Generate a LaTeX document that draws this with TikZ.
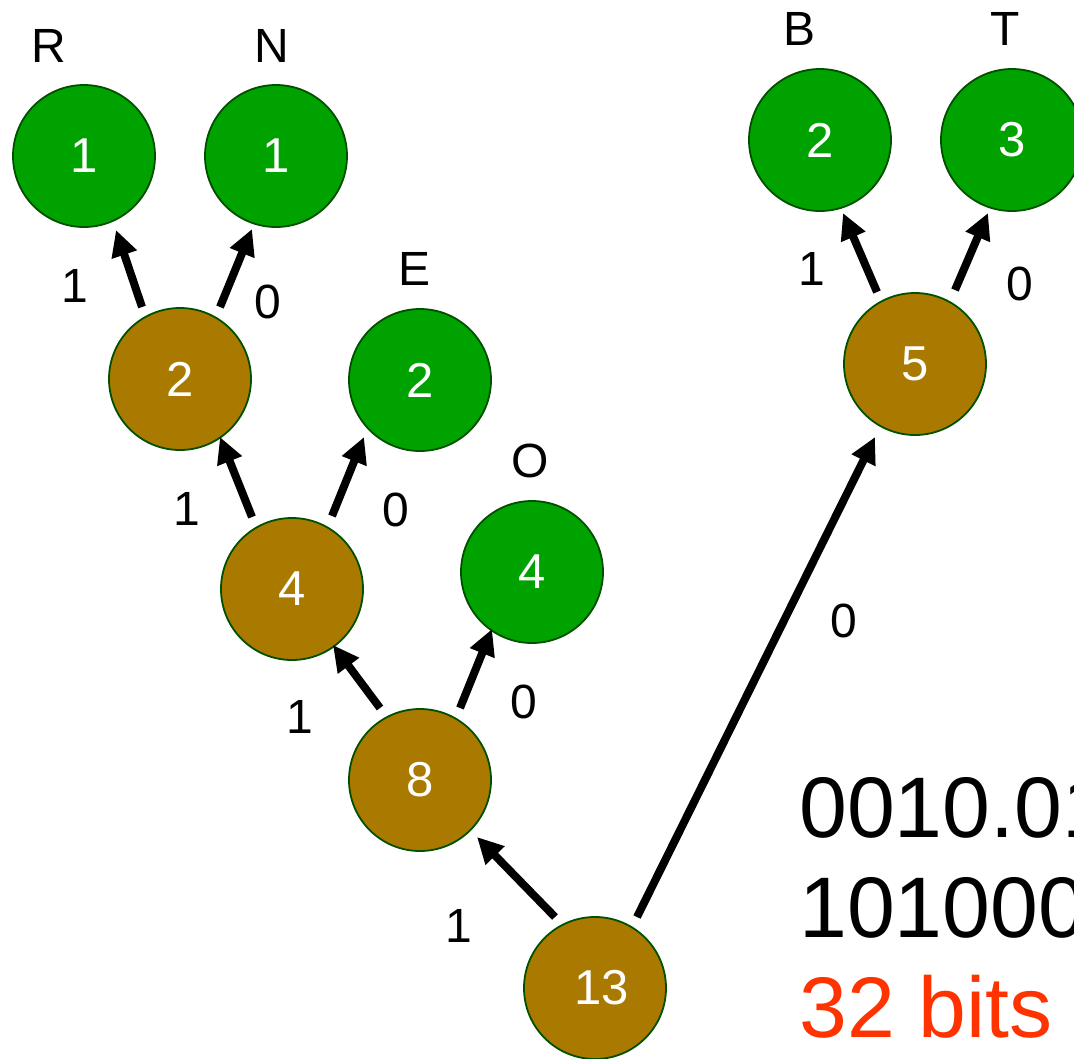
\documentclass[tikz,border=0pt]{standalone}
\usepackage{fontspec}
\setmainfont{Liberation Sans}
\usetikzlibrary{arrows.meta,calc}
\definecolor{leafgreen}{RGB}{0,162,0}
\definecolor{inbrown}{RGB}{170,122,0}
\definecolor{rimgreen}{RGB}{0,80,0}
\definecolor{bitsred}{RGB}{255,51,0}
\tikzset{
  nodebase/.style={circle, draw=rimgreen, line width=1.8pt, minimum size=142pt, inner sep=0pt,
    text=white, font=\fontsize{49}{58}\selectfont},
  leaf/.style={nodebase, fill=leafgreen},
  inner/.style={nodebase, fill=inbrown},
  lbl/.style={inner sep=0pt, anchor=base, font=\fontsize{48}{58}\selectfont},
  big/.style={inner sep=0pt, anchor=base west, font=\fontsize{86}{100}\selectfont},
  arr/.style={line width=8pt, -{Triangle[length=26pt,width=25pt]}}
}
\begin{document}
\begin{tikzpicture}[x=1pt,y=-1pt]
\useasboundingbox (0,0) rectangle (1074,1058);
\clip (0,0) rectangle (1074,1058);
\fill[white] (0,0) rectangle (1074,1058);
% leaves
\node[leaf] (nR) at (84,156) {1};
\node[leaf] (nN) at (276,156) {1};
\node[leaf] (nE) at (420,380) {2};
\node[leaf] (nO) at (532,572) {4};
\node[leaf] (nB) at (820,140) {2};
\node[leaf] (nT) at (1012,140) {3};
% internal
\node[inner] (n2) at (180,379) {2};
\node[inner] (n4) at (292,589) {4};
\node[inner] (n8) at (420,780) {8};
\node[inner] (n13) at (595,988) {\hspace*{14pt}13};
\node[inner] (n5) at (915,364) {5};
% letters
\node[lbl] (lR) at (49,62) {R};
\node[lbl] (lN) at (272,62) {N};
\node[lbl] (lB) at (799,45) {B};
\node[lbl] (lT) at (1005,45) {T};
\node[lbl] (lE) at (415,285) {E};
\node[lbl] (lO) at (530,477) {O};
% arrows
\draw[arr] ($(n2)+(-38,-72)$) -- ($(nR)+(32,74)$);
\draw[arr] ($(n2)+(40,-72)$) -- ($(nN)+(-24,73)$);
\draw[arr] ($(n4)+(-40,-72)$) -- ($(n2)+(40,58)$);
\draw[arr] ($(n4)+(40,-73)$) -- ($(nE)+(-56,57)$);
\draw[arr] ($(n8)+(-40,-72)$) -- ($(n4)+(41,56)$);
\draw[arr] ($(n8)+(40,-72)$) -- ($(nO)+(-40,57)$);
\draw[arr] ($(n13)+(-40,-71)$) -- ($(n8)+(57,57)$);
\draw[arr] ($(n13)+(42,-71)$) -- ($(n5)+(-40,73)$);
\draw[arr] ($(n5)+(-38,-72)$) -- ($(nB)+(23,73)$);
\draw[arr] ($(n5)+(40,-74)$) -- ($(nT)+(-24,73)$);
% edge labels
\node[lbl] (e1) at (75,302) {1};
\node[lbl] (e2) at (268,318) {0};
\node[lbl] (e3) at (812,285) {1};
\node[lbl] (e4) at (1020,300) {0};
\node[lbl] (e5) at (187,525) {1};
\node[lbl] (e6) at (396,526) {0};
\node[lbl] (e7) at (300,733) {1};
\node[lbl] (e8) at (524,718) {0};
\node[lbl] (e9) at (844,637) {0};
\node[lbl] (e10) at (459,942) {1};
% code text
\node[big] (c1) at (799,837) {0010.01};
\node[big] (c2) at (799,937) {101000};
\node[big, text=bitsred] (c3) at (799,1037) {32 bits};
\end{tikzpicture}
\end{document}
